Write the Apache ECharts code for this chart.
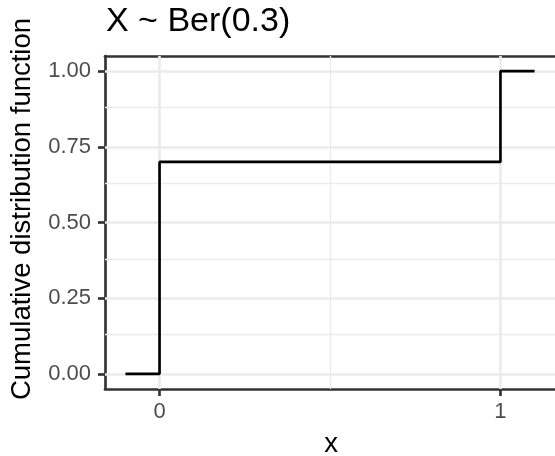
<!DOCTYPE html>
<html>
<head>
<meta charset="utf-8">
<script src="https://cdn.jsdelivr.net/npm/echarts@6/dist/echarts.min.js"></script>
<style>html,body{margin:0;padding:0;background:#fff;}#c{width:555px;height:456px;}</style>
</head>
<body>
<div id="c"></div>
<script>
// CDF of Bernoulli(0.3) as step points
var stepX = [-0.1, 0, 1, 1.1];
var stepY = [0, 0.7, 1, 1];
var xTicks = [0, 1];
var yTicks = [0, 0.25, 0.5, 0.75, 1];
var xMinorGrid = [0.5];
var yMinorGrid = [0.125, 0.375, 0.625, 0.875];
var titleText = 'X ~ Ber(0.3)';
var xTitle = 'x';
var yTitle = 'Cumulative distribution function';

var FONT = 'Liberation Sans';
var chart = echarts.init(document.getElementById('c'), null, {renderer: 'canvas'});

var gridLines = [];
xTicks.forEach(function (v) { gridLines.push({xAxis: v, lineStyle: {color: '#EBEBEB', width: 2.67, type: 'solid'}}); });
yTicks.forEach(function (v) { gridLines.push({yAxis: v, lineStyle: {color: '#EBEBEB', width: 2.67, type: 'solid'}}); });
xMinorGrid.forEach(function (v) { gridLines.push({xAxis: v, lineStyle: {color: '#EBEBEB', width: 1.33, type: 'solid'}}); });
yMinorGrid.forEach(function (v) { gridLines.push({yAxis: v, lineStyle: {color: '#EBEBEB', width: 1.33, type: 'solid'}}); });

var option = {
  animation: false,
  backgroundColor: '#ffffff',
  grid: {
    left: 105, top: 56, width: 453.5, height: 333,
    show: false, containLabel: false
  },
  xAxis: [{
    type: 'value', min: -0.16, max: 1.16,
    axisLine: {show: true, onZero: false, lineStyle: {color: '#333333', width: 2.67}},
    axisTick: {show: true, length: 7, customValues: xTicks, lineStyle: {color: '#333333', width: 2.67}},
    axisLabel: {show: true, customValues: xTicks, margin: 12, color: '#4D4D4D', fontSize: 22, fontFamily: FONT,
      formatter: function (v) { return String(v); }},
    splitLine: {show: false}
  }, {
    type: 'value', position: 'top', min: -0.16, max: 1.16,
    axisLine: {show: true, onZero: false, lineStyle: {color: '#333333', width: 2.67}},
    axisTick: {show: false}, axisLabel: {show: false}, splitLine: {show: false}
  }],
  yAxis: {
    type: 'value', min: -0.05, max: 1.05,
    axisLine: {show: true, onZero: false, lineStyle: {color: '#333333', width: 2.67}},
    axisTick: {show: true, length: 7, customValues: yTicks, lineStyle: {color: '#333333', width: 2.67}},
    axisLabel: {show: true, customValues: yTicks, margin: 14, color: '#4D4D4D', fontSize: 22, fontFamily: FONT,
      formatter: function (v) { return v.toFixed(2); }},
    splitLine: {show: false}
  },
  graphic: [
    {type: 'text', left: 106, top: 5, style: {text: titleText, font: '34px "Liberation Sans"', fill: '#000000'}},
    {type: 'text', x: 22, y: 209, rotation: Math.PI / 2,
      style: {text: yTitle, font: '27.5px "Liberation Sans"', fill: '#000000', align: 'center', verticalAlign: 'middle'}},
    {type: 'text', x: 331, y: 444,
      style: {text: xTitle, font: '27.5px "Liberation Sans"', fill: '#000000', align: 'center', verticalAlign: 'middle'}}
  ],
  series: [
    {
      type: 'line', silent: true, z: 1, data: [], symbol: 'none',
      markLine: {silent: true, symbol: 'none', label: {show: false}, animation: false, data: gridLines, z: 1}
    },
    {
      type: 'line', step: 'end', symbol: 'none', z: 5,
      lineStyle: {color: '#000000', width: 2.67},
      data: stepX.map(function (x, i) { return [x, stepY[i]]; })
    }
  ]
};
chart.setOption(option);
</script>
</body>
</html>
